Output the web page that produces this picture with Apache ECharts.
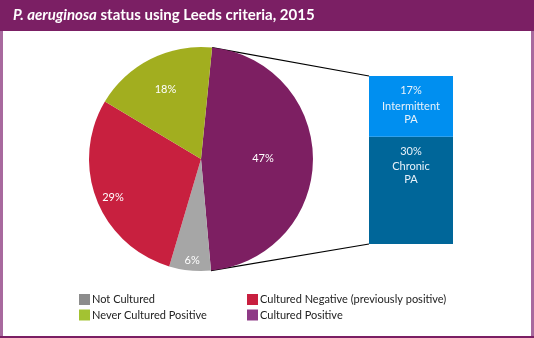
<!DOCTYPE html>
<html>
<head>
<meta charset="utf-8">
<script src="https://cdn.jsdelivr.net/npm/echarts@6/dist/echarts.min.js"></script>
<style>html,body{margin:0;padding:0;background:#fff}#c{width:534px;height:338px}</style>
</head>
<body>
<div id="c"></div>
<script>
// ---- data ----
const pieCategories = ['Cultured Positive', 'Not Cultured', 'Cultured Negative (previously positive)', 'Never Cultured Positive'];
const pieValues = [47, 6, 29, 18];
const barCategories = ['Chronic\nPA', 'Intermittent\nPA'];
const barValues = [30, 17];
const titleItalic = 'P. aeruginosa';
const titleRest = ' status using Leeds criteria, 2015';

// ---- styles ----
const pieColors = ['#7d1f62', '#a6a6a6', '#c8203f', '#a2ae1f'];
const legendColors = {'Cultured Positive':'#8e3a86','Not Cultured':'#8c8c8c','Cultured Negative (previously positive)':'#c81f3f','Never Cultured Positive':'#a3c232'};
const barColors = ['#006699', '#008ff0'];
const labelOffsets = [[3, -1], [-3, 43], [-33, 17], [-9, -17]];
const FONT = 'Lato';

const cx = 201, cy = 159, R = 112, startAngle = 84.3;
const gridL = 369, gridT = 76, gridW = 84, gridH = 168;

const total = pieValues.reduce((a, b) => a + b, 0);
const endAngle = startAngle - pieValues[0] / total * 360;
const rad = d => d * Math.PI / 180;
const p1 = [cx + R * Math.cos(rad(startAngle)), cy - R * Math.sin(rad(startAngle))];
const p2 = [cx + R * Math.cos(rad(endAngle)), cy - R * Math.sin(rad(endAngle))];

const chart = echarts.init(document.getElementById('c'), null, {renderer: 'canvas'});
const option = {
  animation: false,
  backgroundColor: '#fff',
  title: {
    left: 13, top: 8, padding: 0,
    text: '{i|' + titleItalic + '}{n|' + titleRest + '}',
    textStyle: {
      rich: {
        i: {fontFamily: FONT, fontSize: 15, fontWeight: 'bold', fontStyle: 'italic', color: '#fff'},
        n: {fontFamily: FONT, fontSize: 15, fontWeight: 'bold', color: '#fff'}
      }
    }
  },
  graphic: [
    {type: 'rect', z: -1, shape: {x: 0, y: 0, width: 534, height: 31}, style: {fill: '#7b1f64'}},
    {type: 'rect', z: -1, shape: {x: 0, y: 31, width: 3, height: 307}, style: {fill: '#a8699e'}},
    {type: 'rect', z: -1, shape: {x: 531, y: 31, width: 3, height: 307}, style: {fill: '#a8699e'}},
    {type: 'rect', z: -1, shape: {x: 0, y: 336, width: 534, height: 2}, style: {fill: '#7b1f64'}},
    {type: 'line', shape: {x1: p1[0], y1: p1[1], x2: gridL, y2: gridT}, style: {stroke: '#000', lineWidth: 1.2}},
    {type: 'line', shape: {x1: p2[0], y1: p2[1], x2: gridL, y2: gridT + gridH}, style: {stroke: '#000', lineWidth: 1.2}}
  ],
  legend: [
    {
      orient: 'vertical', left: 79, top: 294, padding: 0, itemWidth: 11, itemHeight: 11, itemGap: 4.5,
      icon: 'rect', selectedMode: false,
      textStyle: {fontFamily: FONT, fontSize: 11, color: '#222', padding: [0, 0, 0, -3]},
      data: ['Not Cultured', 'Never Cultured Positive'].map(n => ({name: n, itemStyle: {color: legendColors[n]}}))
    },
    {
      orient: 'vertical', left: 247, top: 294, padding: 0, itemWidth: 11, itemHeight: 11, itemGap: 4.5,
      icon: 'rect', selectedMode: false,
      textStyle: {fontFamily: FONT, fontSize: 11, color: '#222', padding: [0, 0, 0, -3]},
      data: ['Cultured Negative (previously positive)', 'Cultured Positive'].map(n => ({name: n, itemStyle: {color: legendColors[n]}}))
    }
  ],
  grid: {left: gridL, top: gridT, width: gridW, height: gridH},
  xAxis: {type: 'category', data: ['PA'], show: false},
  yAxis: {type: 'value', min: 0, max: barValues.reduce((a, b) => a + b, 0), show: false},
  series: [
    {
      type: 'pie', center: [cx, cy], radius: [0, R], startAngle: startAngle, clockwise: true,
      emphasis: {disabled: true}, labelLine: {show: false},
      label: {position: 'inside', formatter: '{c}%', fontFamily: FONT, fontSize: 11, color: '#fff'},
      data: pieCategories.map((n, i) => ({name: n, value: pieValues[i], itemStyle: {color: pieColors[i]}, label: {offset: labelOffsets[i]}}))
    },
    ...barCategories.map((n, i) => ({
      type: 'bar', name: n, stack: 'pa', barWidth: '100%', data: [barValues[i]],
      itemStyle: {color: barColors[i]}, emphasis: {disabled: true},
      label: {
        show: true, position: 'insideTop', distance: 5.5,
        formatter: p => '{p|' + p.value + '%}\n' + n.split('\n').map(s => '{n|' + s + '}').join('\n'),
        rich: {
          p: {fontFamily: FONT, fontSize: 11, color: '#e8f2fa', lineHeight: 18, align: 'center'},
          n: {fontFamily: FONT, fontSize: 11, color: '#e8f2fa', lineHeight: 13, align: 'center'}
        }
      }
    }))
  ]
};
chart.setOption(option);
</script>
</body>
</html>
